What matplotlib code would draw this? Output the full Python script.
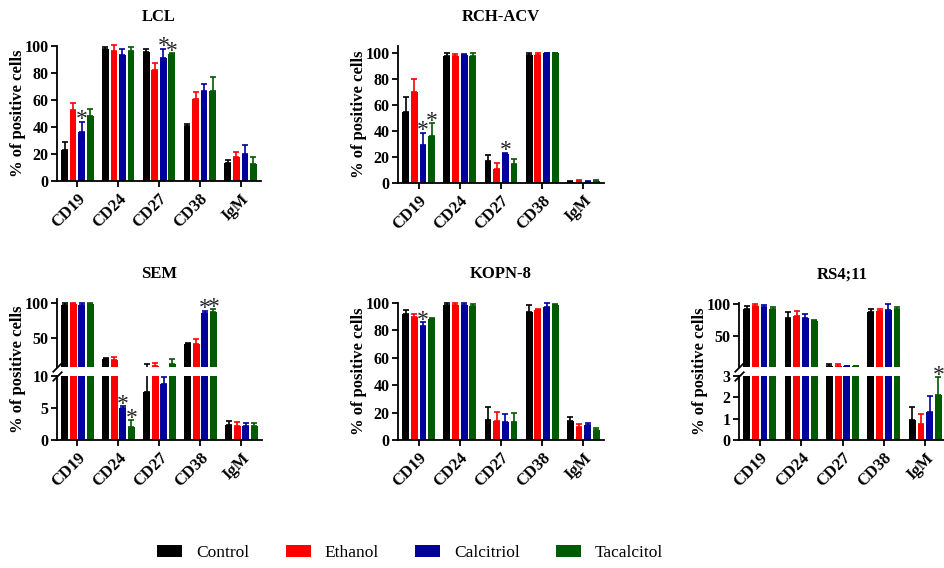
import matplotlib
matplotlib.use('Agg')
import matplotlib.pyplot as plt
from matplotlib.patches import Patch
import numpy as np

plt.rcParams['font.family'] = 'Liberation Serif'
plt.rcParams['font.weight'] = 'bold'
plt.rcParams['axes.linewidth'] = 1.3

markers = ['CD19', 'CD24', 'CD27', 'CD38', 'IgM']
treatments = ['Control', 'Ethanol', 'Calcitriol', 'Tacalcitol']
colors = ['#000000', '#FF0000', '#00009C', '#005A00']

# rows = treatments, columns = markers
lcl_mean = [[23, 97.5, 95.5, 41, 13.3], [52.5, 96.5, 82, 60.5, 18],
            [36, 93, 91, 67, 20], [48, 96, 94, 67, 12.5]]
lcl_err = [[6, 2, 2.5, 1.5, 2.5], [5.5, 4, 5.5, 5.5, 3.5],
           [8, 4.5, 7, 5, 7], [5.7, 3, 0.7, 10, 5]]
lcl_stars = [(0, 2), (2, 2), (2, 3)]

rch_mean = [[54.5, 97.7, 16.4, 98, 0.8], [70, 97.4, 10.5, 98, 1.2],
            [29, 98, 22, 99.5, 0.8], [36, 97.7, 14, 99.5, 1.2]]
rch_err = [[11, 2.3, 4.6, 2, 0.5], [10, 1.6, 4.4, 1.5, 1.0],
           [9.5, 1, 0.8, 0.5, 0.6], [9.5, 1.8, 4, 0.3, 1.0]]
rch_stars = [(0, 2), (0, 3), (2, 2)]

sem_mean = [[97, 21.5, 7.5, 42.5, 2.3], [98.6, 19.6, 12, 41.5, 2.2],
            [97, 5, 8.7, 86, 2.2], [98.6, 2, 14.5, 87.5, 2.2]]
sem_err = [[2.5, 1.5, 6, 1.5, 0.7], [1, 4.7, 3, 7, 0.65],
           [2.5, 0.3, 1.1, 2.3, 0.5], [1, 1.1, 6, 3, 0.5]]
sem_stars = [(1, 2), (1, 3), (3, 2), (3, 3)]

kopn_mean = [[92, 98.8, 14.6, 93.4, 14], [90, 98.8, 13.9, 94.6, 9.5],
             [83.4, 98.8, 12.9, 97, 11], [88.3, 98, 12.9, 98.8, 7.5]]
kopn_err = [[3, 1, 9.8, 5.4, 3], [2, 1, 6.3, 1, 2],
            [2.7, 1.2, 6, 3, 1.5], [0.7, 1.5, 7, 0.8, 1]]
kopn_stars = [(0, 2)]

rs4_mean = [[92, 79, 4.5, 87.5, 0.95], [97.5, 81.6, 5, 89, 0.75],
            [95.5, 79, 4, 91, 1.3], [92.5, 74, 4, 93, 2.1]]
rs4_err = [[5, 9, 3, 5, 0.6], [2, 7, 3, 4, 0.45],
           [2.5, 5, 1, 9.5, 0.75], [3, 2, 1, 2.5, 0.85]]
rs4_stars = [(4, 3)]

W, H = 945, 568
fig = plt.figure(figsize=(W / 100, H / 100), dpi=100)

xpos = np.arange(len(markers))
offsets = (np.arange(4) - 1.5) * 0.21
bw = 0.165


def px_axes(x0, x1, y0, y1):
    return fig.add_axes([x0 / W, 1 - y1 / H, (x1 - x0) / W, (y1 - y0) / H])


def draw_bars(ax, mean, err, clip=True, lo=None):
    for i in range(4):
        m = np.array(mean[i], dtype=float)
        e = np.array(err[i], dtype=float)
        x = xpos + offsets[i]
        if lo is not None:
            # drop marks that never reach the upper segment
            keep = m + e > lo
            m = np.where(keep, m, np.nan)
            e = np.where(keep, e, np.nan)
        ax.bar(x, m, width=bw, color=colors[i], linewidth=0)
        eb = ax.errorbar(x, m, yerr=[np.zeros(len(x)), e], fmt='none',
                         ecolor=colors[i], elinewidth=1.2, capsize=2.2, capthick=1.2)
        if not clip:
            for a in eb.get_children():
                a.set_clip_on(False)


def base_style(ax):
    ax.set_xlim(-0.5, 4.5)
    ax.spines['top'].set_visible(False)
    ax.spines['right'].set_visible(False)
    ax.tick_params(axis='y', length=4, width=1.3, labelsize=11.5, pad=2)


def x_style(ax):
    ax.set_xticks(xpos)
    ax.set_xticklabels(markers, rotation=45, ha='right', rotation_mode='anchor', fontsize=12)
    ax.tick_params(axis='x', length=4, width=1.3, pad=3)


def add_star(ax, g, s, mean, err):
    y = mean[s][g] + err[s][g]
    ax.annotate('*', xy=(xpos[g] + offsets[s], y), xytext=(0, -2.5), textcoords='offset points',
                ha='center', va='baseline', fontsize=17, fontweight='normal',
                color='#222222', annotation_clip=False)


def labels(x0, x1, y0, y1, title, title_y):
    fig.text((x0 + x1) / 2 / W, 1 - title_y / H, title, ha='center', va='center',
             fontsize=12, fontweight='bold')
    fig.text((x0 - 39) / W, 1 - (y0 + y1) / 2 / H, '% of positive cells', rotation=90,
             ha='center', va='center', fontsize=12, fontweight='bold')


def simple_panel(x0, x1, y0, y1, title, title_y, mean, err, stars, ymax):
    ax = px_axes(x0, x1, y0, y1)
    draw_bars(ax, mean, err, clip=False)
    base_style(ax)
    x_style(ax)
    ax.set_ylim(0, ymax)
    ax.set_yticks([0, 20, 40, 60, 80, 100])
    for g, s in stars:
        add_star(ax, g, s, mean, err)
    labels(x0, x1, y0, y1, title, title_y)


def broken_panel(x0, x1, top_y, bot_y, title, title_y, mean, err, stars,
                 top_lim, top_ticks, bot_lim, bot_ticks):
    axt = px_axes(x0, x1, top_y[0], top_y[1])
    axb = px_axes(x0, x1, bot_y[0], bot_y[1])
    draw_bars(axt, mean, err, lo=top_lim[0])
    draw_bars(axb, mean, err)
    for ax in (axt, axb):
        base_style(ax)
    axt.set_ylim(*top_lim)
    axt.set_yticks(top_ticks)
    axt.spines['bottom'].set_visible(False)
    axt.set_xticks([])
    axb.set_ylim(*bot_lim)
    axb.set_yticks(bot_ticks)
    x_style(axb)
    brk = dict(marker=[(-1, -1), (1, 1)], markersize=7, linestyle='none',
               color='k', mec='k', mew=1.3, clip_on=False)
    axt.plot([0], [0], transform=axt.transAxes, **brk)
    axb.plot([0], [1], transform=axb.transAxes, **brk)
    for g, s in stars:
        if mean[s][g] + err[s][g] > bot_lim[1]:
            add_star(axt, g, s, mean, err)
        else:
            add_star(axb, g, s, mean, err)
    labels(x0, x1, top_y[0], bot_y[1], title, title_y)


simple_panel(57, 261, 46, 181, 'LCL', 17, lcl_mean, lcl_err, lcl_stars, 100)
simple_panel(398, 604, 46, 182.7, 'RCH-ACV', 17, rch_mean, rch_err, rch_stars, 105)
broken_panel(57, 262, (299, 367), (376, 440), 'SEM', 274, sem_mean, sem_err, sem_stars,
             (10, 105), [50, 100], (0, 10), [0, 5, 10])
simple_panel(398, 604, 303, 440, 'KOPN-8', 274, kopn_mean, kopn_err, kopn_stars, 100)
broken_panel(739, 946, (302.7, 367), (376, 440), 'RS4;11', 275, rs4_mean, rs4_err, rs4_stars,
             (3, 102), [50, 100], (0, 3), [0, 1, 2, 3])

handles = [Patch(facecolor=c, edgecolor='none') for c in colors]
fig.legend(handles, treatments, loc='center', bbox_to_anchor=(0.434, 0.026), ncol=4,
           frameon=False, prop={'size': 12.5, 'weight': 'normal'}, handlelength=1.45,
           handleheight=0.69, handletextpad=0.78, columnspacing=2.1)

fig.savefig('out.png', dpi=100)
